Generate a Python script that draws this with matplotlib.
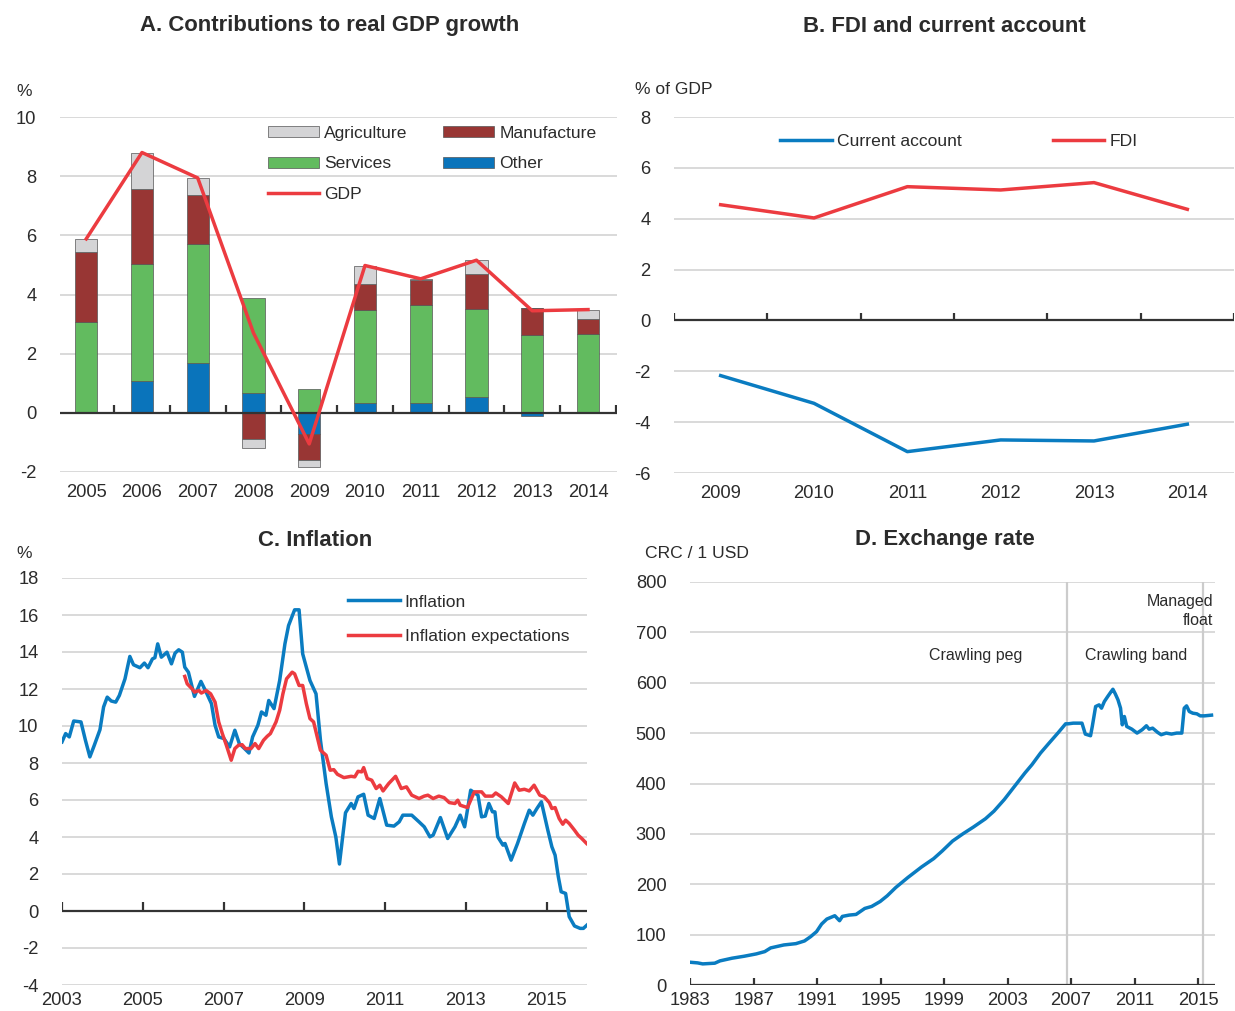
import matplotlib
matplotlib.use("Agg")
import matplotlib.pyplot as plt
from matplotlib import transforms

plt.rcParams['font.family'] = ['Liberation Sans', 'DejaVu Sans']
plt.rcParams['axes.unicode_minus'] = False

# ---- data -------------------------------------------------------------
years_a = ['2005', '2006', '2007', '2008', '2009', '2010', '2011', '2012', '2013', '2014']
other = [0.0, 1.08, 1.67, 0.68, -0.71, 0.32, 0.34, 0.55, -0.11, 0.0]
services = [3.06, 3.95, 4.03, 3.21, 0.81, 3.15, 3.30, 2.95, 2.64, 2.66]
manufacture = [2.39, 2.52, 1.66, -0.88, -0.87, 0.88, 0.85, 1.20, 0.91, 0.52]
agriculture = [0.43, 1.23, 0.58, -0.30, -0.26, 0.60, 0.03, 0.46, 0.0, 0.30]
gdp = [5.88, 8.80, 7.94, 2.70, -1.05, 4.98, 4.53, 5.16, 3.45, 3.49]

years_b = ['2009', '2010', '2011', '2012', '2013', '2014']
current_account = [-2.17, -3.26, -5.16, -4.70, -4.74, -4.08]
fdi = [4.55, 4.03, 5.26, 5.13, 5.42, 4.37]

infl_t = [2003.00, 2003.09, 2003.18, 2003.29, 2003.47, 2003.58, 2003.69, 2003.80, 2003.94, 2004.03,
          2004.12, 2004.22, 2004.33, 2004.42, 2004.56, 2004.68, 2004.77, 2004.93, 2005.04, 2005.13,
          2005.24, 2005.30, 2005.37, 2005.46, 2005.60, 2005.71, 2005.80, 2005.89, 2005.98, 2006.04,
          2006.13, 2006.28, 2006.44, 2006.57, 2006.70, 2006.79, 2006.88, 2007.01, 2007.15, 2007.28,
          2007.39, 2007.52, 2007.63, 2007.72, 2007.85, 2007.94, 2008.05, 2008.12, 2008.25, 2008.39,
          2008.52, 2008.61, 2008.76, 2008.87, 2008.96, 2009.14, 2009.29, 2009.40, 2009.54, 2009.67,
          2009.78, 2009.87, 2010.02, 2010.16, 2010.23, 2010.33, 2010.47, 2010.58, 2010.73, 2010.87,
          2011.04, 2011.22, 2011.35, 2011.44, 2011.66, 2011.84, 2011.97, 2012.11, 2012.19, 2012.37,
          2012.55, 2012.73, 2012.86, 2012.97, 2013.12, 2013.30, 2013.39, 2013.48, 2013.57, 2013.66,
          2013.72, 2013.79, 2013.92, 2013.97, 2014.12, 2014.28, 2014.45, 2014.57, 2014.66, 2014.76,
          2014.87, 2015.03, 2015.13, 2015.21, 2015.29, 2015.36, 2015.47, 2015.56, 2015.69, 2015.83,
          2015.91, 2016.00]
inflation = [9.14, 9.59, 9.41, 10.27, 10.22, 9.23, 8.33, 8.96, 9.80, 11.03,
             11.56, 11.35, 11.29, 11.65, 12.55, 13.76, 13.31, 13.15, 13.40, 13.15,
             13.63, 13.69, 14.44, 13.72, 13.99, 13.36, 13.94, 14.12, 13.99, 13.18,
             12.91, 11.60, 12.41, 11.83, 11.21, 10.04, 9.41, 9.32, 8.87, 9.77,
             9.05, 8.78, 8.54, 9.41, 10.04, 10.76, 10.58, 11.38, 10.94, 12.46,
             14.44, 15.43, 16.28, 16.28, 13.90, 12.46, 11.74, 9.23, 6.89, 5.09,
             4.01, 2.54, 5.31, 5.81, 5.54, 6.17, 6.31, 5.18, 5.00, 6.08,
             4.64, 4.59, 4.82, 5.18, 5.18, 4.82, 4.55, 4.01, 4.10, 5.05,
             3.92, 4.55, 5.18, 4.55, 6.53, 6.26, 5.09, 5.13, 5.81, 5.36,
             5.36, 4.01, 3.56, 3.65, 2.75, 3.65, 4.73, 5.45, 5.18, 5.54,
             5.90, 4.37, 3.47, 3.02, 1.85, 1.04, 0.95, -0.31, -0.81, -0.94,
             -0.94, -0.76]

expect_t = [2006.04, 2006.10, 2006.22, 2006.28, 2006.39, 2006.45, 2006.57, 2006.68, 2006.79, 2006.88,
            2006.97, 2007.07, 2007.19, 2007.28, 2007.37, 2007.46, 2007.54, 2007.68, 2007.78, 2007.87,
            2007.99, 2008.08, 2008.16, 2008.30, 2008.39, 2008.47, 2008.56, 2008.70, 2008.76, 2008.87,
            2008.96, 2009.05, 2009.14, 2009.23, 2009.32, 2009.40, 2009.54, 2009.64, 2009.73, 2009.82,
            2009.98, 2010.16, 2010.25, 2010.33, 2010.42, 2010.47, 2010.56, 2010.67, 2010.78, 2010.87,
            2010.95, 2011.09, 2011.26, 2011.40, 2011.53, 2011.66, 2011.84, 2011.97, 2012.06, 2012.19,
            2012.33, 2012.46, 2012.59, 2012.73, 2012.80, 2012.86, 2013.04, 2013.21, 2013.39, 2013.48,
            2013.66, 2013.74, 2013.88, 2014.05, 2014.21, 2014.32, 2014.45, 2014.57, 2014.69, 2014.83,
            2014.94, 2015.07, 2015.13, 2015.21, 2015.31, 2015.40, 2015.47, 2015.56, 2015.69, 2015.78,
            2015.87, 2015.99]
expectations = [12.68, 12.28, 12.01, 11.83, 11.92, 11.78, 11.92, 11.74, 11.29, 10.22,
                9.59, 8.96, 8.15, 8.78, 8.96, 8.99, 8.78, 8.78, 9.05, 8.78,
                9.23, 9.44, 9.59, 10.22, 10.85, 11.74, 12.55, 12.91, 12.82, 12.19,
                12.19, 11.21, 10.40, 10.22, 9.41, 8.69, 8.42, 7.61, 7.64, 7.39,
                7.21, 7.28, 7.25, 7.55, 7.52, 7.75, 7.16, 7.07, 6.62, 6.80,
                6.49, 6.89, 7.28, 6.62, 6.71, 6.26, 6.08, 6.21, 6.26, 6.08,
                6.21, 6.13, 5.86, 5.81, 5.99, 5.72, 5.59, 6.44, 6.44, 6.21,
                6.21, 6.38, 6.17, 5.81, 6.92, 6.53, 6.58, 6.49, 6.80, 6.26,
                6.17, 5.85, 5.54, 5.59, 5.00, 4.69, 4.91, 4.73, 4.37, 4.10,
                3.92, 3.65]

fx_t = [1983.00, 1983.48, 1983.80, 1984.56, 1984.89, 1985.65, 1986.41, 1987.17, 1987.71, 1988.08,
        1988.91, 1989.67, 1990.21, 1990.60, 1990.97, 1991.29, 1991.62, 1992.12, 1992.42, 1992.60,
        1993.03, 1993.46, 1994.01, 1994.44, 1994.98, 1995.42, 1995.96, 1996.72, 1997.59, 1998.35,
        1998.89, 1999.54, 2000.20, 2000.85, 2001.61, 2002.15, 2002.80, 2003.45, 2004.10, 2004.54,
        2005.08, 2005.62, 2006.17, 2006.66, 2006.82, 2007.14, 2007.69, 2007.90, 2008.23, 2008.34,
        2008.55, 2008.77, 2008.92, 2009.10, 2009.31, 2009.53, 2009.64, 2009.79, 2009.96, 2010.12,
        2010.23, 2010.36, 2010.51, 2010.83, 2011.16, 2011.48, 2011.75, 2011.92, 2012.14, 2012.46,
        2012.68, 2013.00, 2013.33, 2013.66, 2013.98, 2014.13, 2014.28, 2014.45, 2014.67, 2014.93,
        2015.14, 2015.41, 2015.85]
fx_rate = [45.2, 43.9, 41.9, 43.3, 47.9, 53.2, 57.1, 61.7, 66.3, 73.6,
           79.5, 82.1, 87.4, 96.0, 105.9, 121.0, 130.9, 137.5, 127.6, 136.2,
           138.8, 140.1, 152.0, 155.9, 165.8, 177.0, 193.5, 213.3, 234.4, 250.9,
           266.1, 285.8, 300.3, 313.5, 330.0, 345.2, 368.3, 394.7, 421.0, 437.4,
           460.5, 480.3, 500.1, 518.5, 518.5, 519.8, 519.8, 498.1, 494.8, 513.2,
           552.8, 556.1, 549.5, 562.7, 572.6, 582.5, 587.1, 577.9, 566.0, 549.5,
           516.5, 533.0, 513.2, 507.9, 500.1, 506.7, 514.6, 507.9, 509.9, 501.4,
           496.8, 500.1, 498.1, 500.1, 500.1, 549.5, 554.1, 542.9, 539.6, 538.3,
           534.3, 534.3, 535.7]
regime_breaks = [2006.75, 2015.3]

# ---- style --------------------------------------------------------------
BLUE = '#0a7cc1'
RED = '#ec3b40'
GREEN = '#62bb5f'
DARKRED = '#983634'
LIGHTGREY = '#d4d4d6'
OTHERBLUE = '#0a74bb'
TEXT = '#2b2b2b'
GRID = '#d9d9d9'
FS = 13.2      # tick labels
LFS = 12.6     # legends, unit labels
TFS = 15.9     # panel titles
W, H = 1235, 1011

fig = plt.figure(figsize=(W / 100, H / 100), dpi=100)


def px_axes(x0, x1, y_top, y_bot):
    return fig.add_axes([x0 / W, 1 - y_bot / H, (x1 - x0) / W, (y_bot - y_top) / H])


def style(ax, yticks, ypad, xpad=8.5):
    for s in ax.spines.values():
        s.set_visible(False)
    ax.set_yticks(yticks)
    ax.yaxis.grid(True, color=GRID, lw=1.4)
    ax.set_axisbelow(True)
    ax.tick_params(axis='y', length=0, pad=ypad, labelsize=FS, labelcolor=TEXT)
    ax.tick_params(axis='x', length=0, pad=xpad, labelsize=FS, labelcolor=TEXT)
    ax.axhline(0, color='#333333', lw=1.6, zorder=3)


def zero_ticks(ax, xs, ymin, ymax, size=0.022):
    f0 = (0 - ymin) / (ymax - ymin)
    trans = transforms.blended_transform_factory(ax.transData, ax.transAxes)
    ax.vlines(xs, f0, f0 + size, transform=trans, color='#333333', lw=1.6, zorder=3)


def fig_text(x, y, s, **kw):
    fig.text(x / W, 1 - y / H, s, color=TEXT, **kw)


# ---- A. Contributions to real GDP growth -------------------------------
ax = px_axes(60, 617, 117, 472)
xa = list(range(len(years_a)))
pos_base = [0.0] * len(xa)
neg_base = [0.0] * len(xa)
bar_handles = {}
for name, vals, col in [('Other', other, OTHERBLUE), ('Services', services, GREEN),
                        ('Manufacture', manufacture, DARKRED), ('Agriculture', agriculture, LIGHTGREY)]:
    bottoms = [pb if v >= 0 else nb for v, pb, nb in zip(vals, pos_base, neg_base)]
    bar_handles[name] = ax.bar(xa, vals, 0.4, bottom=bottoms, color=col,
                               edgecolor='#555555', linewidth=0.5, zorder=2, label=name)
    pos_base = [pb + max(v, 0) for v, pb in zip(vals, pos_base)]
    neg_base = [nb + min(v, 0) for v, nb in zip(vals, neg_base)]
gdp_line, = ax.plot(xa, gdp, color=RED, lw=2.5, zorder=4, label='GDP')
ax.set_ylim(-2, 10)
ax.set_xlim(-0.47, 9.52)
style(ax, range(-2, 11, 2), 17)
ax.set_xticks(xa)
ax.set_xticklabels(years_a)
zero_ticks(ax, [i + 0.5 for i in xa], -2, 10)
ax.legend([bar_handles['Agriculture'], bar_handles['Services'], gdp_line,
           bar_handles['Manufacture'], bar_handles['Other']],
          ['Agriculture', 'Services', 'GDP', 'Manufacture', 'Other'],
          ncol=2, loc='upper left', bbox_to_anchor=(0.373, 0.975), frameon=False,
          fontsize=LFS, handlelength=2.95, handleheight=0.6, handletextpad=0.28,
          columnspacing=2.0, labelspacing=0.88, borderpad=0, borderaxespad=0,
          labelcolor=TEXT)

# ---- B. FDI and current account ----------------------------------------
ax = px_axes(674, 1234, 117, 473)
xb = list(range(len(years_b)))
ax.plot(xb, current_account, color=BLUE, lw=2.5, label='Current account', zorder=4)
ax.plot(xb, fdi, color=RED, lw=2.5, label='FDI', zorder=4)
ax.set_ylim(-6, 8)
ax.set_xlim(-0.5, 5.5)
style(ax, range(-6, 9, 2), 17)
ax.set_xticks(xb)
ax.set_xticklabels(years_b)
zero_ticks(ax, [i - 0.5 for i in range(len(xb) + 1)], -6, 8)
ax.legend(ncol=2, loc='upper left', bbox_to_anchor=(0.19, 0.953), frameon=False,
          fontsize=LFS, handlelength=2.95, handletextpad=0.28, columnspacing=5.2,
          borderpad=0, borderaxespad=0, labelcolor=TEXT)

# ---- C. Inflation -------------------------------------------------------
ax = px_axes(62, 587, 578, 985)
ax.plot(infl_t, inflation, color=BLUE, lw=2.5, label='Inflation', zorder=4)
ax.plot(expect_t, expectations, color=RED, lw=2.5, label='Inflation expectations', zorder=4)
ax.set_ylim(-4, 18)
ax.set_xlim(2003, 2016)
style(ax, range(-4, 19, 2), 17, xpad=5)
ax.set_xticks(range(2003, 2016, 2))
zero_ticks(ax, range(2003, 2016, 2), -4, 18)
ax.legend(loc='upper left', bbox_to_anchor=(0.545, 0.96), frameon=False,
          fontsize=LFS, handlelength=2.95, handletextpad=0.28, labelspacing=1.12,
          borderpad=0, borderaxespad=0, labelcolor=TEXT)

# ---- D. Exchange rate ---------------------------------------------------
ax = px_axes(690, 1215, 582, 985)
ax.plot(fx_t, fx_rate, color=BLUE, lw=2.5, zorder=4)
for xv in regime_breaks:
    ax.axvline(xv, color='#cccccc', lw=1.6, zorder=1)
ax.set_ylim(0, 800)
ax.set_xlim(1983, 2016.07)
style(ax, range(0, 801, 100), 17, xpad=5)
ax.set_xticks(range(1983, 2016, 4))
zero_ticks(ax, range(1983, 2016, 4), 0, 800, size=0.018)
ax.text(2001.0, 655, 'Crawling peg', ha='center', va='center', fontsize=11.5, color=TEXT)
ax.text(2011.1, 655, 'Crawling band', ha='center', va='center', fontsize=11.5, color=TEXT)
ax.text(2015.95, 742, 'Managed\nfloat', ha='right', va='center', fontsize=11.5,
        color=TEXT, multialignment='right', linespacing=1.35)

# ---- titles and unit labels --------------------------------------------
fig_text(330, 26, 'A. Contributions to real GDP growth', ha='center', va='center',
         fontsize=TFS, fontweight='bold')
fig_text(944, 26, 'B. FDI and current account', ha='center', va='center',
         fontsize=TFS, fontweight='bold')
fig_text(315, 540, 'C. Inflation', ha='center', va='center', fontsize=TFS, fontweight='bold')
fig_text(945, 540, 'D. Exchange rate', ha='center', va='center', fontsize=TFS, fontweight='bold')
fig_text(16, 92, '%', ha='left', va='center', fontsize=LFS)
fig_text(635, 90, '% of GDP', ha='left', va='center', fontsize=LFS)
fig_text(16, 553, '%', ha='left', va='center', fontsize=LFS)
fig_text(645, 554, 'CRC / 1 USD', ha='left', va='center', fontsize=LFS)

fig.savefig('out.png', dpi=100)
